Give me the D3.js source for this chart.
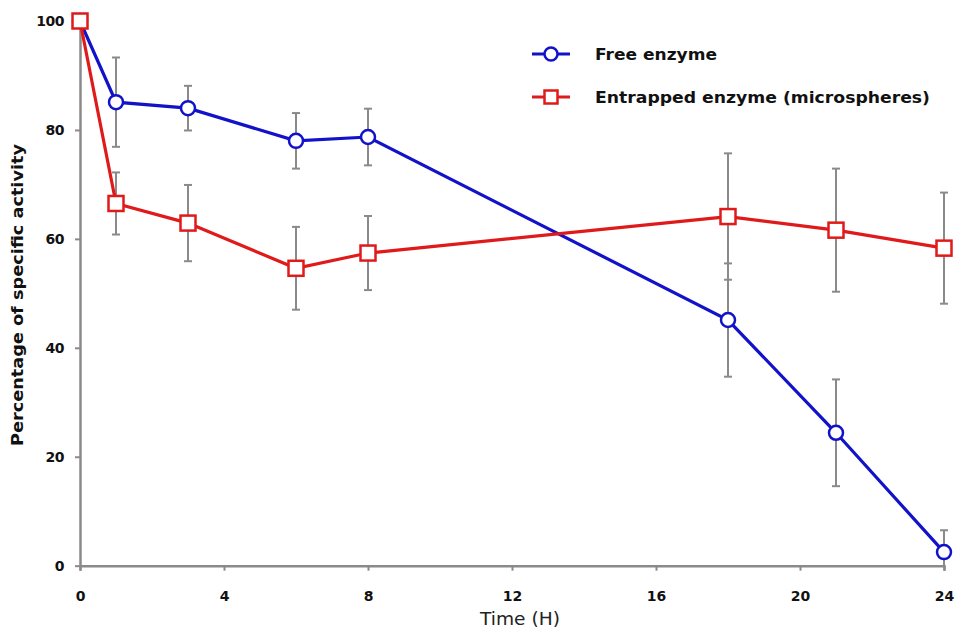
<!DOCTYPE html>
<html><head><meta charset="utf-8">
<script src="https://cdn.jsdelivr.net/npm/d3@7"></script>
<style>body{margin:0;background:#fff}svg{display:block}</style>
</head><body>
<svg id="chart" width="959" height="630"></svg>
<script>
const times = [0, 1, 3, 6, 8, 18, 21, 24];
const freeValues = [100, 85.1, 84.0, 78.0, 78.7, 45.1, 24.4, 2.5];
const freeErrors = [0, 8.2, 4.1, 5.1, 5.2, 10.4, 9.8, 4.0];
const entrappedValues = [100, 66.5, 62.9, 54.6, 57.4, 64.1, 61.6, 58.3];
const entrappedErrors = [0, 5.7, 7.0, 7.6, 6.8, 11.6, 11.3, 10.2];
const xTicks = [0, 4, 8, 12, 16, 20, 24];
const yTicks = [0, 20, 40, 60, 80, 100];
const seriesNames = ["Free enzyme", "Entrapped enzyme (microspheres)"];

const svg = d3.select("#chart");
const x = d3.scaleLinear().domain([0, 24]).range([80, 944]);
const y = d3.scaleLinear().domain([0, 100]).range([565.7, 21]);
const axisColor = "#8a8a8a";
const blue = "#1212c8", red = "#e01a1a";

svg.append("defs").append("clipPath").attr("id", "plotclip").append("rect")
  .attr("x", 0).attr("y", 0).attr("width", 959).attr("height", y(0));

// axes
const gx = svg.append("g").attr("transform", `translate(0,${y(0)})`)
  .call(d3.axisBottom(x).tickValues(xTicks).tickSize(5).tickFormat(d3.format("d")));
gx.select(".domain").attr("stroke", axisColor).attr("stroke-width", 2.5);
gx.selectAll(".tick line").attr("stroke", axisColor).attr("stroke-width", 2);
gx.selectAll(".tick text").attr("y", 25).attr("font-family", "'DejaVu Sans', sans-serif")
  .attr("font-weight", "bold").attr("font-size", 14).attr("fill", "#111");

const gy = svg.append("g").attr("transform", `translate(${x(0)},0)`)
  .call(d3.axisLeft(y).tickValues(yTicks).tickSize(5).tickSizeOuter(0).tickFormat(d3.format("d")));
gy.select(".domain").attr("stroke", axisColor).attr("stroke-width", 2.5);
gy.selectAll(".tick line").attr("stroke", axisColor).attr("stroke-width", 2);
gy.selectAll(".tick text").attr("x", -16).attr("font-family", "'DejaVu Sans', sans-serif")
  .attr("font-weight", "bold").attr("font-size", 14).attr("fill", "#111").attr("letter-spacing", -0.5);

// axis titles
svg.append("text").attr("x", 520).attr("y", 625).attr("text-anchor", "middle")
  .attr("font-family", "'DejaVu Sans', sans-serif").attr("font-size", 17)
  .attr("fill", "#222").attr("textLength", 80).attr("lengthAdjust", "spacingAndGlyphs").text("Time (H)");
svg.append("text").attr("transform", "translate(23,295) rotate(-90)").attr("text-anchor", "middle")
  .attr("font-family", "'DejaVu Sans', sans-serif").attr("font-size", 15).attr("font-weight", "bold")
  .attr("fill", "#111").attr("textLength", 302).attr("lengthAdjust", "spacingAndGlyphs")
  .text("Percentage of specific activity");

const freeData = times.map((t, i) => ({t, v: freeValues[i], e: freeErrors[i]}));
const entData = times.map((t, i) => ({t, v: entrappedValues[i], e: entrappedErrors[i]}));

// error bars
function errorBars(data) {
  const g = svg.append("g").attr("stroke", axisColor).attr("stroke-width", 2).attr("clip-path", "url(#plotclip)");
  data.filter(d => d.e > 0).forEach(d => {
    g.append("line").attr("x1", x(d.t)).attr("x2", x(d.t)).attr("y1", y(d.v + d.e)).attr("y2", y(d.v - d.e));
    g.append("line").attr("x1", x(d.t) - 4).attr("x2", x(d.t) + 4).attr("y1", y(d.v + d.e)).attr("y2", y(d.v + d.e));
    g.append("line").attr("x1", x(d.t) - 4).attr("x2", x(d.t) + 4).attr("y1", y(d.v - d.e)).attr("y2", y(d.v - d.e));
  });
}
errorBars(entData);
errorBars(freeData);

const line = d3.line().x(d => x(d.t)).y(d => y(d.v));
svg.append("path").datum(freeData).attr("d", line).attr("fill", "none").attr("stroke", blue).attr("stroke-width", 3.2);
svg.append("path").datum(entData).attr("d", line).attr("fill", "none").attr("stroke", red).attr("stroke-width", 3.2);

svg.append("g").selectAll("circle").data(freeData).join("circle")
  .attr("cx", d => x(d.t)).attr("cy", d => y(d.v)).attr("r", 7)
  .attr("fill", "#fff").attr("stroke", blue).attr("stroke-width", 2.5);
svg.append("g").selectAll("rect").data(entData).join("rect")
  .attr("x", d => x(d.t) - 7.5).attr("y", d => y(d.v) - 7.5).attr("width", 15).attr("height", 15)
  .attr("fill", "#fff").attr("stroke", red).attr("stroke-width", 2.5);

// legend
const lg = svg.append("g");
const legendRows = [
  {name: seriesNames[0], color: blue, shape: "circle", y: 54, len: 122},
  {name: seriesNames[1], color: red, shape: "rect", y: 97, len: 335}
];
legendRows.forEach(r => {
  lg.append("line").attr("x1", 532).attr("x2", 570).attr("y1", r.y).attr("y2", r.y)
    .attr("stroke", r.color).attr("stroke-width", 3);
  if (r.shape === "circle") {
    lg.append("circle").attr("cx", 551).attr("cy", r.y).attr("r", 6.5)
      .attr("fill", "#fff").attr("stroke", r.color).attr("stroke-width", 2.5);
  } else {
    lg.append("rect").attr("x", 544.5).attr("y", r.y - 6.5).attr("width", 13).attr("height", 13)
      .attr("fill", "#fff").attr("stroke", r.color).attr("stroke-width", 2.5);
  }
  lg.append("text").attr("x", 595).attr("y", r.y + 6).attr("font-family", "'DejaVu Sans', sans-serif")
    .attr("font-size", 16).attr("font-weight", "bold").attr("fill", "#111")
    .attr("textLength", r.len).attr("lengthAdjust", "spacingAndGlyphs").text(r.name);
});
</script>
</body></html>
